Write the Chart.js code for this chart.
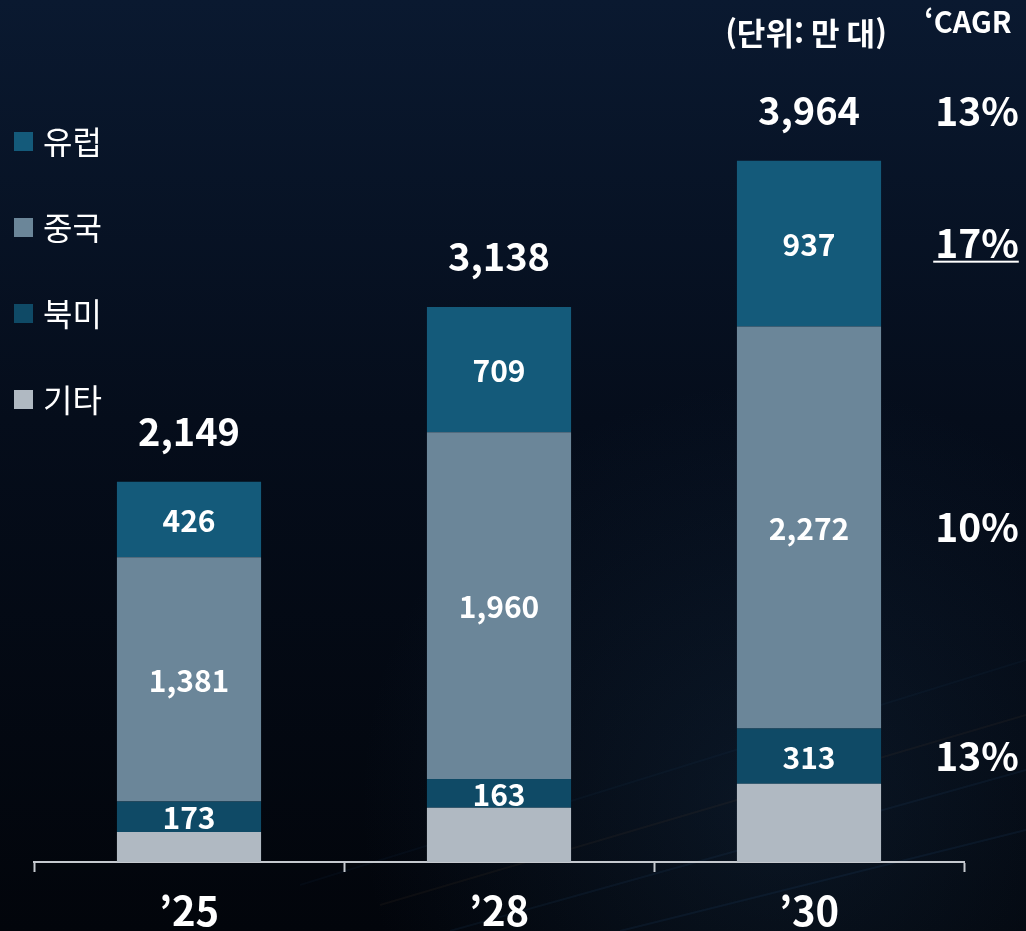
<!DOCTYPE html>
<html lang="ko">
<head>
<meta charset="utf-8">
<title>지역별 판매 전망</title>
<script src="https://cdn.jsdelivr.net/npm/chart.js@4.4.1/dist/chart.umd.min.js"></script>
<style>
  html, body { margin: 0; padding: 0; background: #02060e; }
  #wrap { position: relative; width: 1026px; height: 931px; }
</style>
</head>
<body>
<div id="wrap"><canvas id="chart" width="1026" height="931"></canvas></div>
<script>
const years = ['’25', '’28', '’30'];
const seriesNames = ['기타', '북미', '중국', '유럽'];
const etcValues = [169, 306, 442];
const naValues = [173, 163, 313];
const chinaValues = [1381, 1960, 2272];
const europeValues = [426, 709, 937];
const totals = [2149, 3138, 3964];
// CAGR column: total, 유럽, 중국, 북미
const cagrTotal = '13%';
const cagrEurope = '17%';
const cagrChina = '10%';
const cagrNa = '13%';
const unitText = '(단위: 만 대)';
const cagrTitle = '‘CAGR';

const colors = ['#b0b9c2', '#0f4a66', '#6b8699', '#145a7a'];
const FONT = '"Noto Sans CJK KR", "Noto Sans", sans-serif';

function fmt(v) {
  return v.toLocaleString('en-US');
}

const background = {
  id: 'background',
  beforeDraw(chart) {
    const { ctx, width, height } = chart;
    ctx.save();
    const g = ctx.createLinearGradient(0, 0, 0, height);
    g.addColorStop(0, '#0a1930');
    g.addColorStop(0.45, '#050d1b');
    g.addColorStop(1, '#02050b');
    ctx.fillStyle = g;
    ctx.fillRect(0, 0, width, height);
    // faint light streaks, lower right
    const glow = ctx.createRadialGradient(780, 800, 20, 780, 800, 420);
    glow.addColorStop(0, 'rgba(40,80,120,0.20)');
    glow.addColorStop(1, 'rgba(40,80,120,0)');
    ctx.fillStyle = glow;
    ctx.fillRect(0, 0, width, height);
    const streaks = [
      [380, 905, 1026, 715, 'rgba(160,110,70,0.07)'],
      [450, 931, 1026, 770, 'rgba(70,130,190,0.08)'],
      [620, 931, 1026, 830, 'rgba(60,120,190,0.09)'],
      [300, 885, 1026, 660, 'rgba(60,110,170,0.05)']
    ];
    ctx.lineWidth = 2;
    streaks.forEach(([x1, y1, x2, y2, c]) => {
      ctx.strokeStyle = c;
      ctx.beginPath();
      ctx.moveTo(x1, y1);
      ctx.lineTo(x2, y2);
      ctx.stroke();
    });
    ctx.restore();
  }
};

const labels = {
  id: 'labels',
  afterDraw(chart) {
    const { ctx } = chart;
    const xScale = chart.scales.x;
    ctx.save();
    ctx.fillStyle = '#ffffff';
    ctx.textAlign = 'center';
    ctx.textBaseline = 'middle';

    // segment values (not for 기타)
    [1, 2, 3].forEach((di) => {
      const meta = chart.getDatasetMeta(di);
      meta.data.forEach((bar, i) => {
        const v = chart.data.datasets[di].data[i];
        ctx.font = 'bold 30px ' + FONT;
        ctx.fillText(fmt(v), bar.x, (bar.y + bar.base) / 2 + 1);
      });
    });

    // totals
    const topMeta = chart.getDatasetMeta(3);
    topMeta.data.forEach((bar, i) => {
      ctx.font = 'bold 38px ' + FONT;
      ctx.fillText(fmt(totals[i]), bar.x, bar.y - 50);
    });

    // category labels
    years.forEach((y, i) => {
      ctx.font = 'bold 40px ' + FONT;
      ctx.fillText(y, xScale.getPixelForValue(i), 911);
    });

    // CAGR column, aligned with the last bar
    const last = years.length - 1;
    const cx = 977;
    ctx.font = 'bold 39px ' + FONT;
    const eu = chart.getDatasetMeta(3).data[last];
    const cn = chart.getDatasetMeta(2).data[last];
    const na = chart.getDatasetMeta(1).data[last];
    ctx.fillText(cagrTotal, cx, eu.y - 50);
    const euY = (eu.y + eu.base) / 2;
    ctx.fillText(cagrEurope, cx, euY);
    const w = ctx.measureText(cagrEurope).width;
    ctx.fillRect(cx - w / 2 - 2, euY + 17, w + 2, 2);
    ctx.fillText(cagrChina, cx, (cn.y + cn.base) / 2);
    ctx.fillText(cagrNa, cx, (na.y + na.base) / 2);

    // header texts
    ctx.font = 'bold 31px ' + FONT;
    ctx.fillText(unitText, 806, 33);
    ctx.font = 'bold 29px ' + FONT;
    ctx.fillText(cagrTitle, 968, 22);

    // legend, top series first
    ctx.textAlign = 'left';
    ctx.font = '32px ' + FONT;
    const order = [3, 2, 1, 0];
    order.forEach((di, k) => {
      const y = 142 + k * 86;
      ctx.fillStyle = colors[di];
      ctx.fillRect(14, y - 10, 19, 19);
      ctx.fillStyle = '#ffffff';
      ctx.fillText(seriesNames[di], 43, y);
    });
    ctx.restore();
  }
};

const valueLists = [etcValues, naValues, chinaValues, europeValues];

new Chart(document.getElementById('chart'), {
  type: 'bar',
  data: {
    labels: years,
    datasets: seriesNames.map((name, i) => ({
      label: name,
      data: valueLists[i],
      backgroundColor: colors[i],
      borderWidth: 0,
      barPercentage: 0.465,
      categoryPercentage: 1.0
    }))
  },
  options: {
    responsive: false,
    animation: false,
    layout: { padding: { left: 34, right: 62, top: 66, bottom: 59 } },
    plugins: {
      legend: { display: false },
      tooltip: { enabled: false }
    },
    scales: {
      x: {
        stacked: true,
        ticks: { display: false },
        grid: {
          display: true,
          offset: true,
          drawOnChartArea: false,
          drawTicks: true,
          tickLength: 10,
          tickWidth: 2,
          color: '#c5c9cf'
        },
        border: { display: true, color: '#c5c9cf', width: 2 }
      },
      y: {
        stacked: true,
        display: false,
        min: 0,
        max: 4500
      }
    }
  },
  plugins: [background, labels]
});
</script>
</body>
</html>
